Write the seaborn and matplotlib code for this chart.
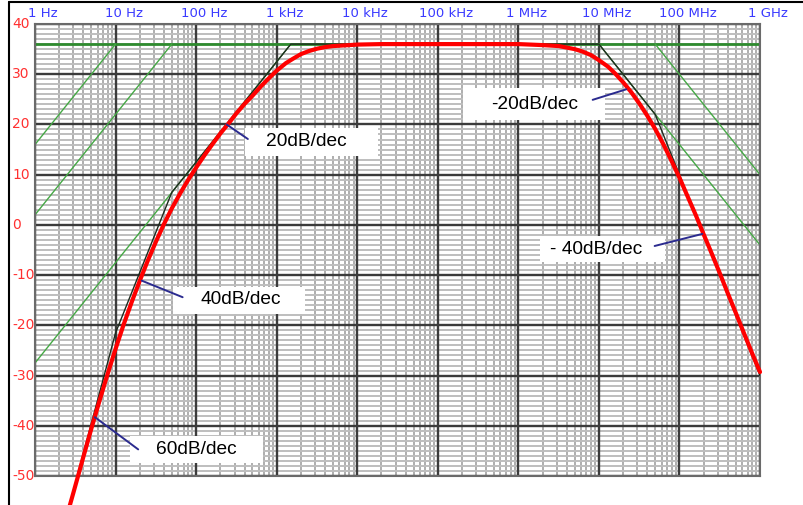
import numpy as np
import pandas as pd
import matplotlib
matplotlib.use("Agg")
import matplotlib.pyplot as plt
import matplotlib.transforms as mtransforms
from matplotlib.lines import Line2D
from matplotlib.patches import Rectangle
from matplotlib.ticker import LogLocator, MultipleLocator, FixedLocator, NullFormatter
import seaborn as sns

# Magnitude response of the band-pass amplifier
freq_hz = [2.7, 3, 4, 5, 6.3, 8, 10, 12.5, 16, 20, 25, 32, 40, 50, 63, 80,
           100, 130, 160, 200, 250, 320, 400, 500, 630, 800,
           1e3, 1.3e3, 1.6e3, 2e3, 2.5e3, 3.2e3, 4e3, 5e3, 6.3e3, 8e3,
           1e4, 2e4, 1e5, 1e6, 2e6, 3.2e6, 4e6, 5e6, 6.3e6, 8e6,
           1e7, 1.3e7, 1.6e7, 2e7, 2.5e7, 3.2e7, 4e7, 5e7, 6.3e7, 8e7,
           1e8, 1.3e8, 1.6e8, 2e8, 2.5e8, 3.2e8, 4e8, 5e8, 6.3e8, 8e8, 1e9]
gain_db = [-55.9, -53.3, -46.1, -40.6, -35.1, -29.6, -24.7, -20.0, -15.2, -11.1,
           -7.2, -3.2, 0.2, 3.3, 6.2, 9.0,
           11.4, 14.1, 16.1, 18.2, 20.1, 22.3, 24.1, 25.7, 27.5, 29.2,
           30.7, 32.2, 33.1, 34.0, 34.6, 35.1, 35.4, 35.6, 35.7, 35.8,
           35.9, 36.0, 36.0, 36.0, 35.8, 35.6, 35.3, 35.0, 34.5, 33.8,
           32.8, 31.5, 30.1, 28.4, 26.5, 24.1, 21.7, 19.1, 16.1, 12.7,
           9.4, 5.2, 1.9, -1.9, -5.6, -9.8, -13.7, -17.5, -21.5, -25.6, -29.3]

# Straight-line (Bode) approximation of the whole response
asym_freq = [1, 10, 50, 1500, 1e7, 5e7, 1e9]
asym_db = [-81.5, -21.5, 6.5, 36.0, 36.0, 22.0, -30.0]

# Single-pole asymptotes: midband level and one line per corner
pole_freq = [[1, 1e9], [1, 10], [1, 50], [1, 1500], [1e7, 1e9], [5e7, 1e9]]
pole_db = [[36, 36], [16, 36], [2, 36], [-27.5, 36], [36, -4], [36, 10]]

decade_freqs = [1, 10, 100, 1e3, 1e4, 1e5, 1e6, 1e7, 1e8, 1e9]
decade_labels = ["1 Hz", "10 Hz", "100 Hz", "1 kHz", "10 kHz", "100 kHz",
                 "1 MHz", "10 MHz", "100 MHz", "1 GHz"]
db_ticks = [40, 30, 20, 10, 0, -10, -20, -30, -40, -50]

slope_labels = ["20dB/dec", "40dB/dec", "60dB/dec", "-20dB/dec", "- 40dB/dec"]
slope_at_freq = [239, 21.1, 5.55, 21.9e6, 192e6]
slope_at_db = [20.0, -11.1, -38.3, 27.0, -1.8]
pointer_end_freq = [439, 68, 19.1, 8.37e6, 49.2e6]
pointer_end_db = [17.1, -14.4, -44.7, 24.9, -4.2]

sns.set_theme(style="white")
plt.rcParams["font.family"] = ["DejaVu Sans"]

W, H, DPI = 804, 505, 100
fig = plt.figure(figsize=(W / DPI, H / DPI), dpi=DPI)
AX_L, AX_T, AX_R, AX_B = 35, 24, 760, 476
ax = fig.add_axes([AX_L / W, (H - AX_B) / H, (AX_R - AX_L) / W, (AX_B - AX_T) / H])
ax.set_facecolor("white")
ax.set_xscale("log")
ax.set_xlim(1, 1e9)
ax.set_ylim(-50, 40)


def px_to_axes(x, y):
    return (x - AX_L) / (AX_R - AX_L), (AX_B - y) / (AX_B - AX_T)


# grid: 1-2-...-9 per decade, 1 dB steps, heavy lines at decades and 10 dB
ax.xaxis.set_major_locator(FixedLocator(decade_freqs))
ax.xaxis.set_minor_locator(LogLocator(base=10, subs=np.arange(2, 10), numticks=60))
ax.yaxis.set_major_locator(MultipleLocator(10))
ax.yaxis.set_minor_locator(MultipleLocator(1))
for axis in (ax.xaxis, ax.yaxis):
    axis.set_major_formatter(NullFormatter())
    axis.set_minor_formatter(NullFormatter())
ax.tick_params(which="both", length=0)
ax.grid(which="minor", axis="y", color="#bebebe", lw=1.4, zorder=0.5)
ax.grid(which="minor", axis="x", color="#999999", lw=1.1, zorder=0.6)
ax.set_axisbelow(True)
for f in decade_freqs:
    ax.axvline(f, color="#3c3c3c", lw=1.7, zorder=1.2)
for v in db_ticks:
    ax.axhline(v, color="#3c3c3c", lw=1.7, zorder=1.2)
for s in ax.spines.values():
    s.set_color("#6a6a6a")
    s.set_linewidth(1.5)

# asymptotes
for gx, gy in zip(pole_freq, pole_db):
    horiz = gy[0] == gy[1]
    sns.lineplot(x=gx, y=gy, ax=ax, sort=False, estimator=None, legend=False,
                 color="#2e8b2e" if horiz else "#45a845",
                 lw=2.0 if horiz else 1.0, zorder=2.5)
sns.lineplot(x=asym_freq, y=asym_db, ax=ax, sort=False, estimator=None,
             legend=False, color="#1e2a1e", lw=1.0, zorder=3)

# response curve
resp = pd.DataFrame({"freq": freq_hz, "gain": gain_db})
sns.lineplot(data=resp, x="freq", y="gain", ax=ax, sort=False, estimator=None,
             legend=False, color="#ff0000", lw=3.0, zorder=5)
ax.lines[-1].set_clip_on(False)
ax.set_xlabel("")
ax.set_ylabel("")

# slope call-outs
boxes_px = [(245, 128, 378, 156), (173, 287, 305, 314), (130, 436, 263, 463),
            (463, 88, 605, 120), (540, 236, 665, 262)]
text_px = [(306.5, 141.5), (240.5, 300), (196.5, 449), (534.5, 105), (596.5, 250)]
for lab, (x0, y0, x1, y1), (tx, ty), sf, sd, ef, ed in zip(
        slope_labels, boxes_px, text_px, slope_at_freq, slope_at_db,
        pointer_end_freq, pointer_end_db):
    ax0, ay1 = px_to_axes(x0, y0)
    ax1, ay0 = px_to_axes(x1, y1)
    ax.add_patch(Rectangle((ax0, ay0), ax1 - ax0, ay1 - ay0, transform=ax.transAxes,
                           facecolor="white", edgecolor="none", zorder=6))
    axx, axy = px_to_axes(tx, ty)
    ax.text(axx, axy, lab, transform=ax.transAxes, ha="center", va="center",
            fontsize=13.8, family=["Liberation Sans", "DejaVu Sans"],
            color="black", zorder=7)
    ax.plot([sf, ef], [sd, ed], color="#2b2b8f", lw=1.4, zorder=7)

# frequency labels along the top, dB labels down the left
top_tr = mtransforms.blended_transform_factory(ax.transData, ax.transAxes) + \
    mtransforms.ScaledTranslation(8 / DPI, 10 / DPI, fig.dpi_scale_trans)
for f, lab in zip(decade_freqs, decade_labels):
    ax.text(f, 1.0, lab, transform=top_tr, ha="center", va="center",
            fontsize=9.5, color="#3a3aff", clip_on=False)
left_tr = mtransforms.blended_transform_factory(ax.transAxes, ax.transData) + \
    mtransforms.ScaledTranslation(-23 / DPI, 0, fig.dpi_scale_trans)
for v in db_ticks:
    ax.text(0.0, v, str(v), transform=left_tr, ha="left", va="center",
            fontsize=10, color="#ff3030", clip_on=False)

# outer frame (top and left edges)
fig.add_artist(Line2D([9.5 / W, 1.0], [1 - 1.5 / H, 1 - 1.5 / H],
                      transform=fig.transFigure, color="black", lw=1.5))
fig.add_artist(Line2D([9.5 / W, 9.5 / W], [0.0, 1 - 1.5 / H],
                      transform=fig.transFigure, color="black", lw=1.5))

fig.savefig("out.png", dpi=DPI)
